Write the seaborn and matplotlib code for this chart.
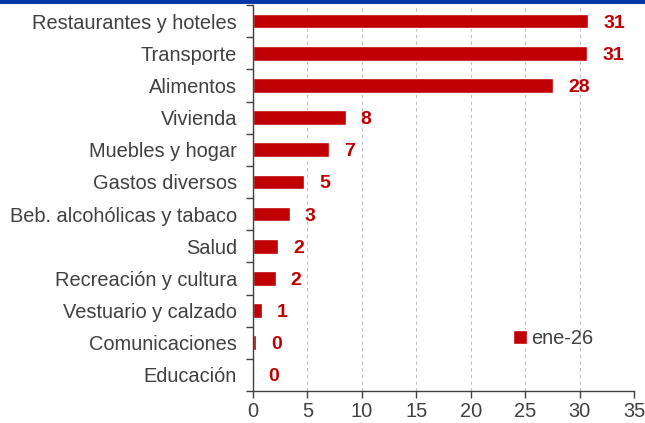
import matplotlib
matplotlib.use("Agg")
import matplotlib.pyplot as plt
import seaborn as sns
import numpy as np
import pandas as pd
from matplotlib.patches import Rectangle

categories = [
    "Restaurantes y hoteles",
    "Transporte",
    "Alimentos",
    "Vivienda",
    "Muebles y hogar",
    "Gastos diversos",
    "Beb. alcohólicas y tabaco",
    "Salud",
    "Recreación y cultura",
    "Vestuario y calzado",
    "Comunicaciones",
    "Educación",
]
values = [30.8, 30.7, 27.6, 8.5, 7.0, 4.7, 3.4, 2.3, 2.1, 0.8, 0.3, 0.0]
series_name = "ene-26"
x_ticks = [0, 5, 10, 15, 20, 25, 30, 35]

RED = "#C00000"
TEXT = "#404040"

sns.set_theme(style="white")
plt.rcParams["font.family"] = ["Liberation Sans", "DejaVu Sans"]

df = pd.DataFrame({"categoria": categories, "valor": values, "serie": series_name})

fig = plt.figure(figsize=(6.45, 4.23), dpi=100)
ax = fig.add_axes([253 / 645, 32 / 423, 381 / 645, 386 / 423])

sns.barplot(data=df, x="valor", y="categoria", hue="serie", palette=[RED],
            orient="h", width=0.46, saturation=1, ax=ax, legend=True)

for i, v in enumerate(values):
    ax.annotate(f"{v:.0f}", xy=(v, i), xytext=(15, 0), textcoords="offset pixels",
                ha="left", va="center_baseline", fontsize=14, fontweight="bold", color=RED)

ax.set_xlim(0, 35)
ax.set_ylim(len(categories) - 0.5, -0.5)
ax.set_xticks(x_ticks)
ax.set_xticklabels([str(t) for t in x_ticks])
ax.set_yticks(range(len(categories)))
ax.set_yticklabels(categories)
ax.set_yticks(np.arange(-0.5, len(categories), 1.0), minor=True)
ax.tick_params(axis="y", which="major", length=0, labelsize=14.4, labelcolor=TEXT, pad=11.5)
ax.tick_params(axis="y", which="minor", length=5, width=1, color="#404040", direction="out", left=True)
ax.tick_params(axis="x", length=5, width=1, color="#404040", labelsize=14.4, labelcolor=TEXT,
               direction="out", bottom=True, pad=3)
ax.set_xlabel("")
ax.set_ylabel("")

ax.xaxis.grid(True, linestyle=(0, (3, 3)), color="#BFBFBF", linewidth=0.8)
ax.set_axisbelow(True)
for s in ["top", "right"]:
    ax.spines[s].set_visible(False)
ax.spines["left"].set_color("#404040")
ax.spines["bottom"].set_color("#404040")
ax.spines["left"].set_linewidth(1)
ax.spines["bottom"].set_linewidth(1)

ax.legend(loc="center left", bbox_to_anchor=(0.635, 0.135), frameon=False,
          handlelength=0.7, handleheight=0.7, handletextpad=0.2, fontsize=14.4,
          labelcolor=TEXT)

fig.patches.append(Rectangle((0, 1 - 4.5 / 423), 1, 4.5 / 423, transform=fig.transFigure,
                             facecolor="#0039A6", edgecolor="none"))

fig.savefig("out.png", dpi=100)
